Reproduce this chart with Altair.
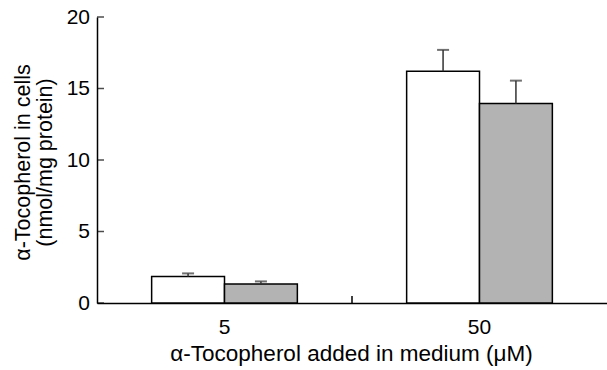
import altair as alt
import pandas as pd

doses = ["5", "50"]
series = ["Series A", "Series B"]
means_a = [1.85, 16.2]
means_b = [1.33, 13.95]
sd_a = [0.22, 1.5]
sd_b = [0.18, 1.6]
y_ticks = [0, 5, 10, 15, 20]

rows = []
for i, d in enumerate(doses):
    rows.append({"dose": d, "series": series[0], "mean": means_a[i], "sd": sd_a[i]})
    rows.append({"dose": d, "series": series[1], "mean": means_b[i], "sd": sd_b[i]})
df = pd.DataFrame(rows)
df_ticks = pd.DataFrame({"v": y_ticks})
df_sep = pd.DataFrame({"dose": doses[:-1]})

FONT = "Liberation Sans"
W, H = 510, 286

x_enc = alt.X(
    "dose:N",
    sort=doses,
    scale=alt.Scale(paddingInner=0, paddingOuter=0),
    axis=alt.Axis(
        title="α-Tocopherol added in medium (μM)",
        labelAngle=0,
        tickSize=0,
        labelPadding=30.7,
        labelBaseline="alphabetic",
        labelFontSize=21,
        labelFont=FONT,
        labelColor="black",
        titleFontSize=22.5,
        titleFont=FONT,
        titleFontWeight="normal",
        titleColor="black",
        titleBaseline="alphabetic",
        titleY=57,
        titleX=254,
        domainColor="black",
        domainWidth=1.5,
    ),
)
xoff = alt.XOffset(
    "series:N",
    sort=series,
    scale=alt.Scale(paddingInner=0, paddingOuter=0.75),
)
y_scale = alt.Scale(domain=[0, 20], nice=False)
y_enc = alt.Y(
    "mean:Q",
    scale=y_scale,
    axis=alt.Axis(
        values=y_ticks,
        title=["α-Tocopherol in cells", "(nmol/mg protein)"],
        tickSize=0,
        labelPadding=7.5,
        labelFontSize=21,
        labelFont=FONT,
        labelColor="black",
        titleFontSize=21.5,
        titleFont=FONT,
        titleFontWeight="normal",
        titleColor="black",
        titleAngle=-90,
        titleAlign="center",
        titleBaseline="alphabetic",
        titleLineHeight=22.5,
        titleX=-68,
        titleY=145,
        grid=False,
        domainColor="black",
        domainWidth=1.5,
    ),
)

bars = alt.Chart(df).mark_bar(stroke="black", strokeWidth=1.5).encode(
    x=x_enc,
    xOffset=xoff,
    y=y_enc,
    color=alt.Color(
        "series:N",
        sort=series,
        scale=alt.Scale(domain=series, range=["#ffffff", "#b3b3b3"]),
        legend=None,
    ),
)

err = alt.Chart(df).transform_calculate(top="datum.mean + datum.sd").mark_rule(
    color="#333333", strokeWidth=1.5
).encode(
    x=alt.X("dose:N", sort=doses),
    xOffset=alt.XOffset("series:N", sort=series),
    y=alt.Y("mean:Q", scale=y_scale),
    y2="top:Q",
)

caps = alt.Chart(df).transform_calculate(top="datum.mean + datum.sd").mark_tick(
    color="#333333", thickness=2, size=12, orient="horizontal"
).encode(
    x=alt.X("dose:N", sort=doses),
    xOffset=alt.XOffset("series:N", sort=series),
    y=alt.Y("top:Q", scale=y_scale),
)

yticks = alt.Chart(df_ticks).mark_tick(
    color="black", thickness=1.5, size=7, orient="horizontal"
).encode(
    y=alt.Y("v:Q", scale=y_scale),
    x=alt.value(3.5),
)

sep = alt.Chart(df_sep).mark_rule(color="black", strokeWidth=1.5).encode(
    x=alt.X("dose:N", sort=doses, bandPosition=1),
    y=alt.value(H),
    y2=alt.value(H - 7),
)

chart = (
    alt.layer(bars, err, caps, yticks, sep)
    .properties(
        width=W,
        height=H,
        autosize=alt.AutoSizeParams(type="none"),
        padding={"left": 97, "top": 17, "right": 0, "bottom": 67},
        background="white",
    )
    .configure_view(stroke=None)
)

chart.save("out.html", embed_options={"renderer": "svg", "actions": False})
